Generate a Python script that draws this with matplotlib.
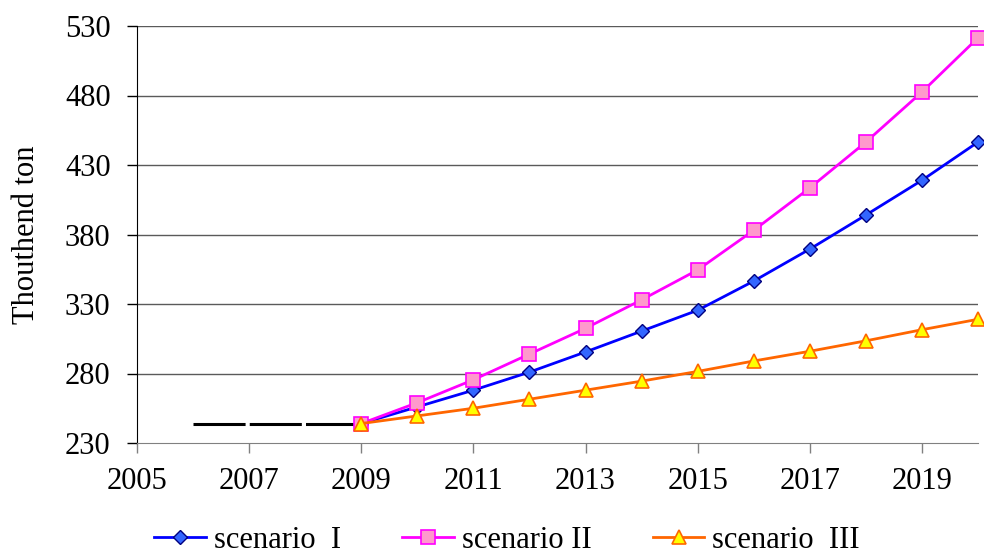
import numpy as np
import matplotlib
matplotlib.use("Agg")
import matplotlib.pyplot as plt

plt.rcParams['font.family'] = ['Liberation Serif', 'DejaVu Serif']
plt.rcParams['lines.scale_dashes'] = False

# values
years = [2009, 2010, 2011, 2012, 2013, 2014, 2015, 2016, 2017, 2018, 2019, 2020]
scenario_1 = [244, 256, 268, 281, 295.5, 310.5, 325.5, 346.5, 369.5, 394, 419, 446.5]
scenario_2 = [244, 259, 275.5, 294, 312.5, 333, 354.5, 383, 413.5, 446.5, 482.5, 521.5]
scenario_3 = [244, 249.5, 255, 261.5, 268, 274.5, 281.5, 289, 296, 303.5, 311.5, 319]
hist_years = [2006, 2007, 2008, 2009]
hist_vals = [244, 244, 244, 244]
labels = ['scenario  I', 'scenario II', 'scenario  III']
yticks = [230, 280, 330, 380, 430, 480, 530]
xticks = [2005, 2007, 2009, 2011, 2013, 2015, 2017, 2019]

fig = plt.figure(figsize=(9.84, 5.58), dpi=100)
ax = fig.add_axes([137 / 984, 1 - 443 / 558, (978 - 137) / 984, (443 - 26) / 558])

for y in yticks[1:]:
    ax.axhline(y, color='#5a5a5a', lw=1, zorder=1)

ax.plot(hist_years, hist_vals, color='black', lw=2.2, dashes=[37.5, 3], zorder=2)

ax.plot(years, scenario_1, color='#0000FF', lw=2.0, marker='D', ms=7,
        mfc='#3366FF', mec='#000080', mew=1.0, label=labels[0], zorder=3, clip_on=False)
ax.plot(years, scenario_2, color='#FF00FF', lw=2.0, marker='s', ms=9.5,
        mfc='#FF99CC', mec='#FF00FF', mew=1.2, label=labels[1], zorder=4, clip_on=False)
ax.plot(years, scenario_3, color='#FF6600', lw=2.0, marker='^', ms=9.5,
        mfc='#FFFF00', mec='#FF6600', mew=1.2, label=labels[2], zorder=5, clip_on=False)

ax.set_xlim(2005, 2020)
ax.set_ylim(230, 530)
ax.set_xticks(xticks)
ax.set_yticks(yticks)
ax.tick_params(axis='both', labelsize=22, direction='out', length=7, width=1)
ax.tick_params(axis='x', colors='#808080', labelcolor='black', pad=10)
ax.tick_params(axis='y', pad=12)

for s in ['top', 'right']:
    ax.spines[s].set_visible(False)
ax.spines['bottom'].set_color('#808080')
ax.spines['left'].set_color('black')

ax.set_ylabel('Thouthend ton', fontsize=22, labelpad=17)

fig.legend(loc='center', bbox_to_anchor=(0.5 + 15 / 984, 1 - 540 / 558), ncol=3, frameon=False,
           fontsize=22, handlelength=1.7, handletextpad=0.25, columnspacing=2.0,
           borderaxespad=0, borderpad=0)

fig.savefig('out.png', dpi=100)
